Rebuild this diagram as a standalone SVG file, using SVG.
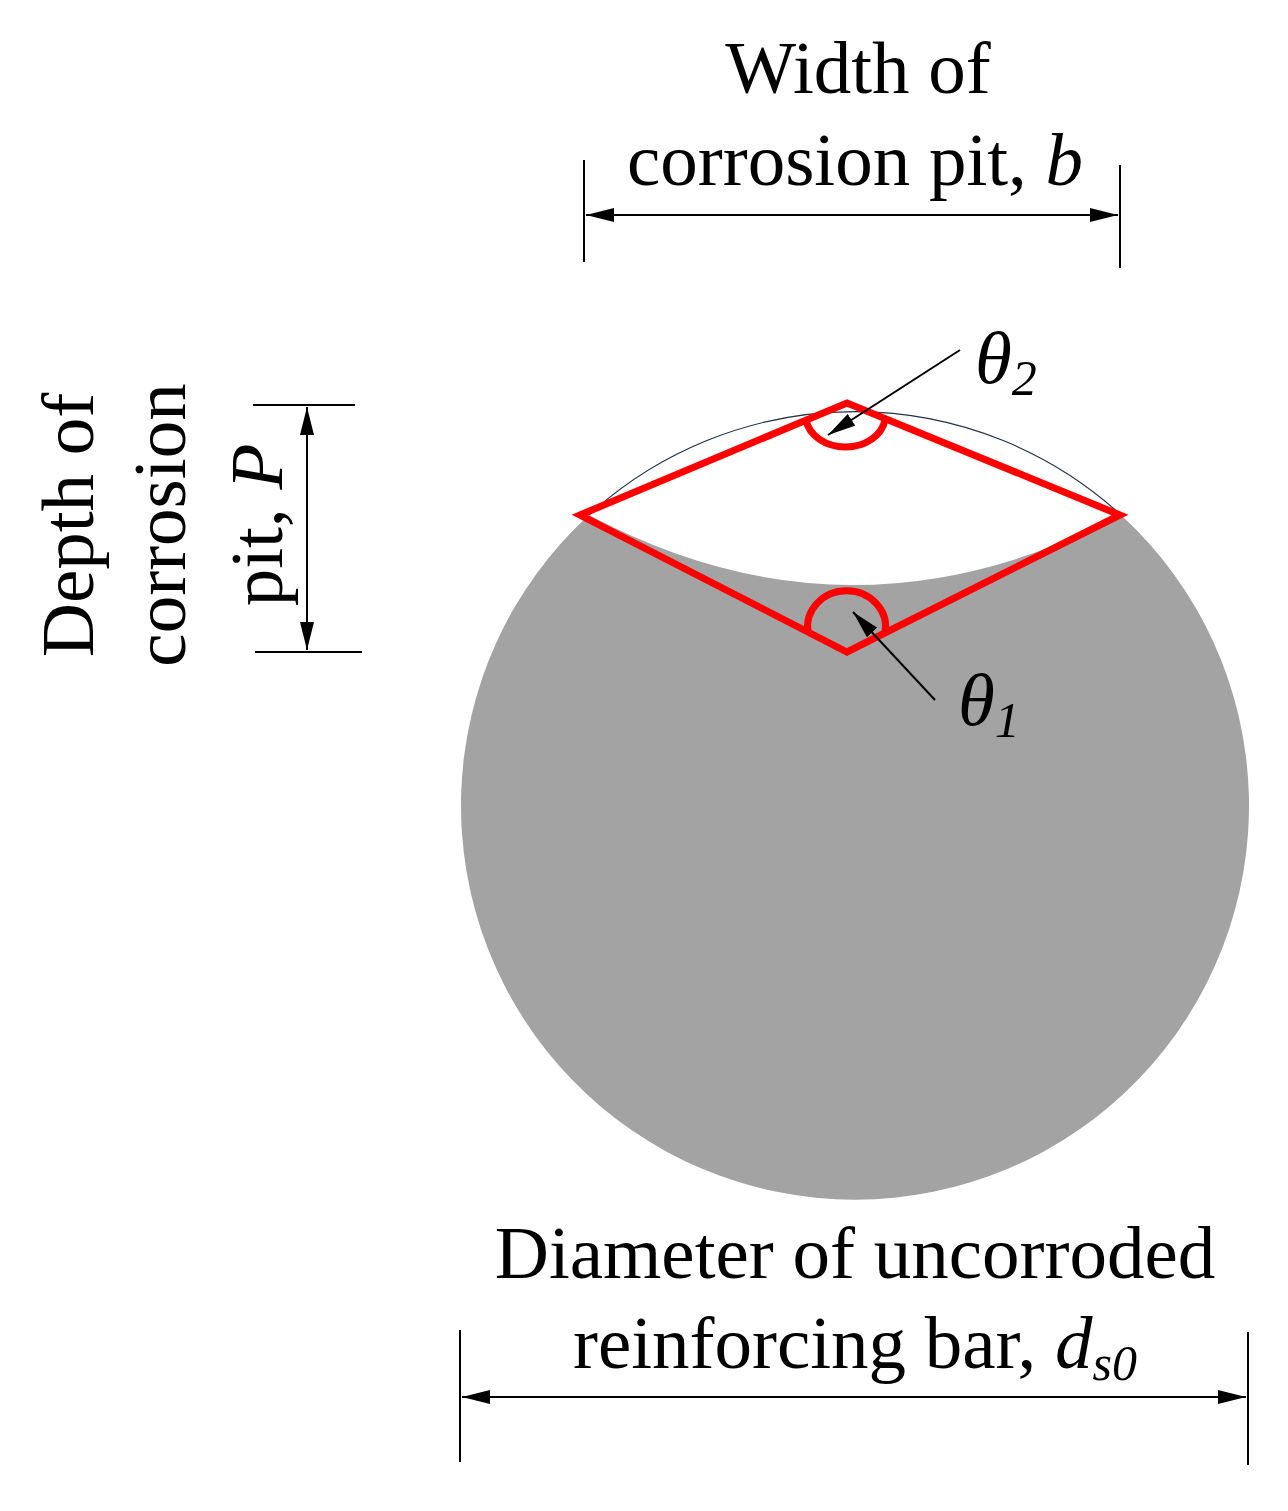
<svg xmlns="http://www.w3.org/2000/svg" width="1288" height="1511" viewBox="0 0 1288 1511">
<style>
text{font-family:"Liberation Serif","Times New Roman",serif;font-size:75px;fill:#000}
.d{stroke:#000;stroke-width:2;fill:none}
.r{stroke:#f00;stroke-width:7;fill:none;stroke-linejoin:miter}
</style>
<defs>
<marker id="b" markerWidth="28" markerHeight="14" refX="28" refY="7" orient="auto-start-reverse" markerUnits="userSpaceOnUse" viewBox="0 0 28 14"><path d="M0,0L28,7L0,14z" fill="#000"/></marker>
</defs>
<g id="bar">
<path d="M589,515 A394,394 0 1 0 1121,515 Q852,655 589,515Z" fill="#a3a3a3"/>
<path d="M589,515 A394,394 0 0 1 1121,515" fill="none" stroke="#234" stroke-width="1.2"/>
</g>
<g id="pit">
<path class="r" d="M580,515 L847,403 L1120,515 L847,652 Z"/>
<path class="r" d="M806,420 A40,32 0 0 0 885,420"/>
<path class="r" d="M808,632 A39,36 0 1 1 885,633"/>
</g>
<g id="connectors">
<line class="d" x1="584" y1="160" x2="584" y2="262"/>
<line class="d" x1="1120" y1="165" x2="1120" y2="268"/>
<line class="d" x1="586" y1="215" x2="1118" y2="215" marker-start="url(#b)" marker-end="url(#b)"/>
<line class="d" x1="253" y1="405" x2="355" y2="405"/>
<line class="d" x1="255" y1="652" x2="362" y2="652"/>
<line class="d" x1="307" y1="407" x2="307" y2="650" marker-start="url(#b)" marker-end="url(#b)"/>
<line class="d" x1="460" y1="1330" x2="460" y2="1462"/>
<line class="d" x1="1248" y1="1332" x2="1248" y2="1465"/>
<line class="d" x1="462" y1="1397" x2="1246" y2="1397" marker-start="url(#b)" marker-end="url(#b)"/>
<line class="d" x1="960" y1="350" x2="828" y2="435" stroke-width="3" marker-end="url(#b)"/>
<line class="d" x1="935" y1="700" x2="853" y2="612" stroke-width="3" marker-end="url(#b)"/>
</g>
<g id="labels">
<text x="858" y="93" text-anchor="middle">Width of</text>
<text x="855" y="185" text-anchor="middle">corrosion pit, <tspan font-style="italic">b</tspan></text>
<g transform="translate(0,525) rotate(-90)" text-anchor="middle">
<text x="0" y="93">Depth of</text>
<text x="0" y="185">corrosion</text>
<text x="0" y="282">pit, <tspan font-style="italic">P</tspan></text>
</g>
<text x="855" y="1278" text-anchor="middle">Diameter of uncorroded</text>
<text x="855" y="1368" text-anchor="middle">reinforcing bar, <tspan font-style="italic">d<tspan font-size="50" dy="12">s0</tspan></tspan></text>
<text x="975" y="383" font-style="italic">θ<tspan font-size="50" dy="12">2</tspan></text>
<text x="958" y="725" font-style="italic">θ<tspan font-size="50" dy="12">1</tspan></text>
</g>
</svg>
